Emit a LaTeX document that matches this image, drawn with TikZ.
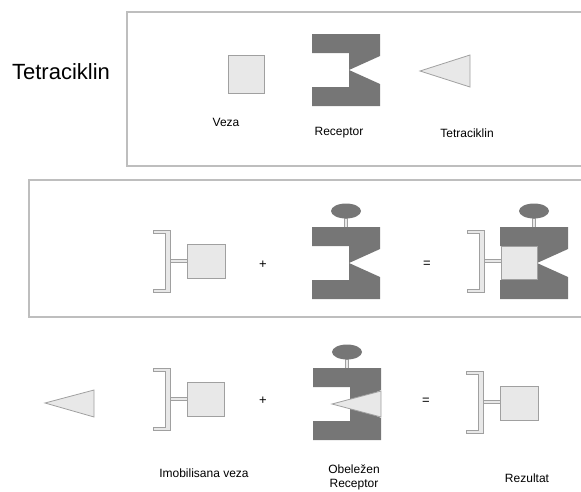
\documentclass[tikz,border=0pt]{standalone}
\usepackage{fontspec}
\setmainfont{Liberation Sans}
\definecolor{recdark}{RGB}{118,118,118}
\definecolor{lightfill}{RGB}{232,232,232}
\definecolor{lineg}{RGB}{160,160,160}
\definecolor{frameg}{RGB}{190,190,190}
\tikzset{
  frame/.style={draw=frameg, line width=1.2pt},
  lightshape/.style={fill=lightfill, draw=lineg, line width=0.8pt},
  lbl/.style={inner sep=0pt, font=\fontsize{12}{14}\selectfont},
  op/.style={inner sep=0pt, font=\fontsize{13}{15}\selectfont},
  receptor/.pic={
    \fill[recdark] (0,0) -- (68,0) -- (68,22) -- (37,36) -- (68,50) -- (68,72)
      -- (0,72) -- (0,53) -- (37,53) -- (37,36) -- (37,19) -- (0,19) -- cycle;
  },
  tag/.pic={
    \path[lightshape] (-1.5,7) rectangle (1.5,16);
    \fill[recdark] (0,0) ellipse [x radius=15, y radius=7.5];
  },
  holder/.pic={
    \path[lightshape] (-34,-31) -- (-17,-31) -- (-17,31) -- (-34,31) -- (-34,28)
      -- (-22,28) -- (-22,-28) -- (-34,-28) -- cycle;
    \path[lightshape] (-17,-1.5) rectangle (0,1.5);
  }
}
\begin{document}
\begin{tikzpicture}[x=1pt,y=-1pt]
\useasboundingbox (0,0) rectangle (581,491);
\clip (0,0) rectangle (581,491);

% ---- legend panel ----
\draw[frame] (127,12) rectangle (600,166);
\node[inner sep=0pt, font=\fontsize{22}{26}\selectfont] (title) at (61,72) {Tetraciklin};
\path[lightshape] (228,55) rectangle (264,93);
\node[lbl] (lveza) at (226,122) {Veza};
\pic at (312,34) {receptor};
\node[lbl] (lrec) at (339,133) {Receptor};
\path[lightshape] (420,71) -- (470,55) -- (470,87) -- cycle;
\node[lbl] (ltet) at (467,133) {Tetraciklin};

% ---- binding without antibiotic ----
\draw[frame] (29,180) rectangle (600,317);
\pic at (187,261) {holder};
\path[lightshape] (187,244) rectangle (225,278);
\node[op] (plusA) at (263,265) {+};
\pic at (346,211) {tag};
\pic at (312,227) {receptor};
\node[op] (eqA) at (427,264) {=};
\pic at (501,261) {holder};
\pic at (534,211) {tag};
\pic at (500,227) {receptor};
\path[lightshape] (501,246) rectangle (537,279);

% ---- binding with antibiotic ----
\path[lightshape] (45,403) -- (94,390) -- (94,417) -- cycle;
\pic at (187,399) {holder};
\path[lightshape] (187,382) rectangle (224,416);
\node[op] (plusB) at (263,401) {+};
\pic at (347,352) {tag};
\pic at (313,368) {receptor};
\path[lightshape] (332,404) -- (381,391) -- (381,417) -- cycle;
\node[op] (eqB) at (426,401) {=};
\pic at (500,402) {holder};
\path[lightshape] (500,386) rectangle (538,420);

\node[lbl] (limob) at (204,473) {Imobilisana veza};
\node[lbl, align=center] (lobel) at (354,477) {Obeležen\\Receptor};
\node[lbl] (lrez) at (527,478) {Rezultat};
\end{tikzpicture}
\end{document}
